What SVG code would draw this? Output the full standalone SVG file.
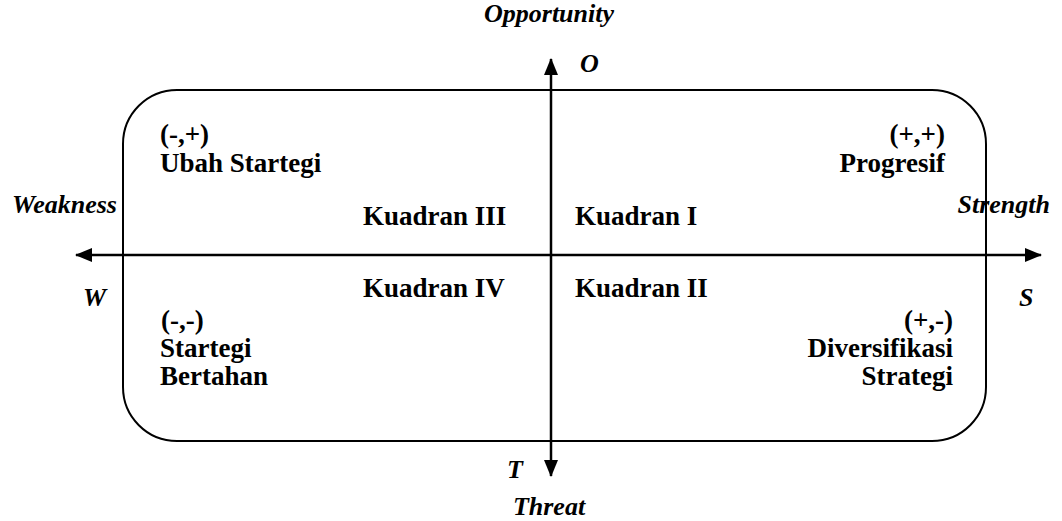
<svg xmlns="http://www.w3.org/2000/svg" width="1062" height="521" viewBox="0 0 1062 521">
<defs>
<style>
.t{font-family:"Liberation Serif","Times New Roman",serif;font-weight:bold;font-size:27px;fill:#000}
.i{font-style:italic;font-size:26px}
.e{text-anchor:end}
.m{text-anchor:middle}
.ax{stroke:#000;stroke-width:2.5;fill:none}
</style>
<marker id="ah" viewBox="0 0 17 14" refX="16" refY="7" markerWidth="17" markerHeight="14" markerUnits="userSpaceOnUse" orient="auto">
<path d="M0,0 L17,7 L0,14 Z" fill="#000"/>
</marker>
</defs>
<g id="frame">
<rect x="123" y="90" width="863" height="351" rx="54" ry="54" fill="none" stroke="#000" stroke-width="2"/>
</g>
<g id="connectors">
<line class="ax" x1="551" y1="255" x2="76" y2="255" marker-end="url(#ah)"/>
<line class="ax" x1="551" y1="255" x2="1041" y2="255" marker-end="url(#ah)"/>
<line class="ax" x1="551" y1="255" x2="551" y2="59" marker-end="url(#ah)"/>
<line class="ax" x1="551" y1="255" x2="551" y2="476" marker-end="url(#ah)"/>
</g>
<g id="axis-labels">
<text class="t i m" x="549" y="22">Opportunity</text>
<text class="t i" x="580" y="72">O</text>
<text class="t i" x="507" y="478">T</text>
<text class="t i m" x="549" y="515">Threat</text>
<text class="t i" x="12" y="213">Weakness</text>
<text class="t i" x="83" y="306">W</text>
<text class="t i e" x="1050" y="213">Strength</text>
<text class="t i" x="1019" y="306">S</text>
</g>
<g id="q3">
<text class="t" x="160" y="143">(-,+)</text>
<text class="t" x="160" y="172">Ubah Startegi</text>
<text class="t" x="363" y="225">Kuadran III</text>
</g>
<g id="q1">
<text class="t e" x="945" y="143">(+,+)</text>
<text class="t e" x="945" y="172">Progresif</text>
<text class="t" x="575" y="225">Kuadran I</text>
</g>
<g id="q4">
<text class="t" x="363" y="297">Kuadran IV</text>
<text class="t" x="161" y="329">(-,-)</text>
<text class="t" x="160" y="357">Startegi</text>
<text class="t" x="160" y="385">Bertahan</text>
</g>
<g id="q2">
<text class="t" x="575" y="297">Kuadran II</text>
<text class="t e" x="953" y="329">(+,-)</text>
<text class="t e" x="953" y="357">Diversifikasi</text>
<text class="t e" x="953" y="385">Strategi</text>
</g>
</svg>
